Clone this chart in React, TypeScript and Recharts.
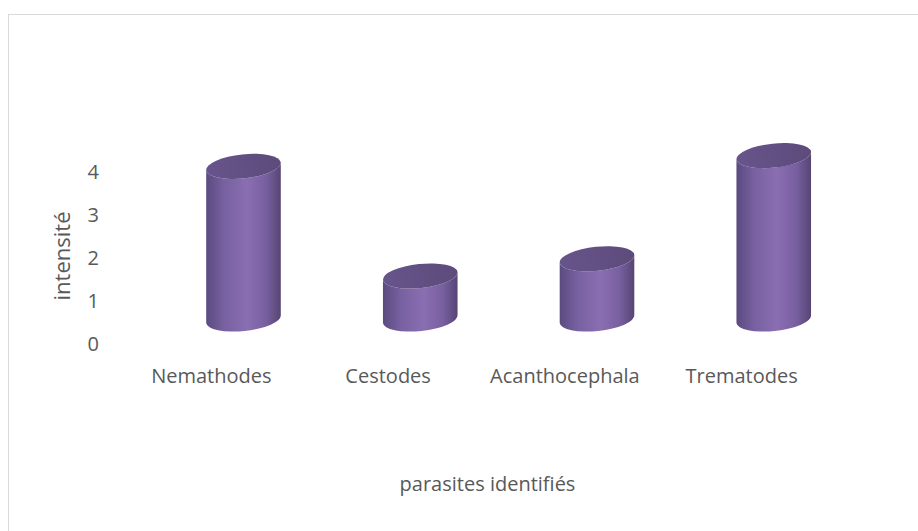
import React from 'react';
import { BarChart, Bar, XAxis, YAxis } from 'recharts';

const categories = ['Nemathodes', 'Cestodes', 'Acanthocephala', 'Trematodes'];
const intensite = [3.55, 1.0, 1.4, 3.8];
const yTicks = [0, 1, 2, 3, 4];

const data = categories.map((name, i) => ({ name, value: intensite[i] }));

const FONT = "'Open Sans', sans-serif";
const TEXT = '#595959';

// fake 3D cylinder, shifted back/right like the depth of an Excel 3D chart
const Cylinder = (props: any) => {
  const { x, y, width, height, index } = props;
  const dx = 32;
  const dy = -25;
  const rx = width / 2;
  const ry = 12;
  const rot = -6;
  const t = (rot * Math.PI) / 180;
  const cx = x + width / 2 + dx;
  const top = y + dy;
  const bot = y + height + dy;
  const ex = rx * Math.cos(t);
  const ey = rx * Math.sin(t);
  const id = `cyl-${index}`;
  const body = [
    `M ${cx - ex} ${top - ey}`,
    `L ${cx - ex} ${bot - ey}`,
    `A ${rx} ${ry} ${rot} 0 0 ${cx + ex} ${bot + ey}`,
    `L ${cx + ex} ${top + ey}`,
    `A ${rx} ${ry} ${rot} 0 1 ${cx - ex} ${top - ey}`,
    'Z',
  ].join(' ');
  return (
    <g>
      <defs>
        <linearGradient id={`${id}-side`} x1="0" y1="0" x2="1" y2="0">
          <stop offset="0%" stopColor="#5b4a80" />
          <stop offset="25%" stopColor="#7962a1" />
          <stop offset="55%" stopColor="#8a6eb2" />
          <stop offset="80%" stopColor="#7860a0" />
          <stop offset="100%" stopColor="#574574" />
        </linearGradient>
        <linearGradient id={`${id}-top`} x1="0" y1="0" x2="1" y2="0">
          <stop offset="0%" stopColor="#67548b" />
          <stop offset="100%" stopColor="#5d4b7b" />
        </linearGradient>
      </defs>
      <path d={body} fill={`url(#${id}-side)`} />
      <ellipse
        cx={cx}
        cy={top}
        rx={rx}
        ry={ry}
        transform={`rotate(${rot} ${cx} ${top})`}
        fill={`url(#${id}-top)`}
      />
    </g>
  );
};

export default function App() {
  return (
    <div style={{ position: 'absolute', left: 0, top: 0, width: 918, height: 531, overflow: 'hidden', background: '#fff' }}>
      <div
        style={{
          position: 'absolute',
          left: 8,
          top: 14,
          width: 930,
          height: 540,
          borderLeft: '1.5px solid #d9d9d9',
          borderTop: '1.5px solid #d9d9d9',
        }}
      />
      <div style={{ position: 'absolute', left: 0, top: 0 }}>
        <BarChart
          width={918}
          height={531}
          data={data}
          margin={{ top: 172, right: 88, bottom: 37, left: 0 }}
        >
          <XAxis
            dataKey="name"
            height={150}
            axisLine={false}
            tickLine={false}
            tickSize={0}
            tickMargin={25}
            tick={{ fill: TEXT, fontSize: 20, fontFamily: FONT }}
            label={{
              value: 'parasites identifiés',
              position: 'insideBottom',
              offset: 3,
              dx: 11,
              fill: TEXT,
              fontSize: 20,
              fontFamily: FONT,
            }}
          />
          <YAxis
            width={123}
            domain={[0, 4]}
            ticks={yTicks}
            axisLine={false}
            tickLine={false}
            tickSize={0}
            tickMargin={24}
            tick={{ fill: TEXT, fontSize: 20, fontFamily: FONT }}
            label={{
              value: 'intensité',
              angle: -90,
              position: 'center',
              dx: 1,
              dy: -2,
              fill: TEXT,
              fontSize: 22,
              fontFamily: FONT,
            }}
          />
          <Bar dataKey="value" barSize={75} isAnimationActive={false} shape={Cylinder} />
        </BarChart>
      </div>
    </div>
  );
}
